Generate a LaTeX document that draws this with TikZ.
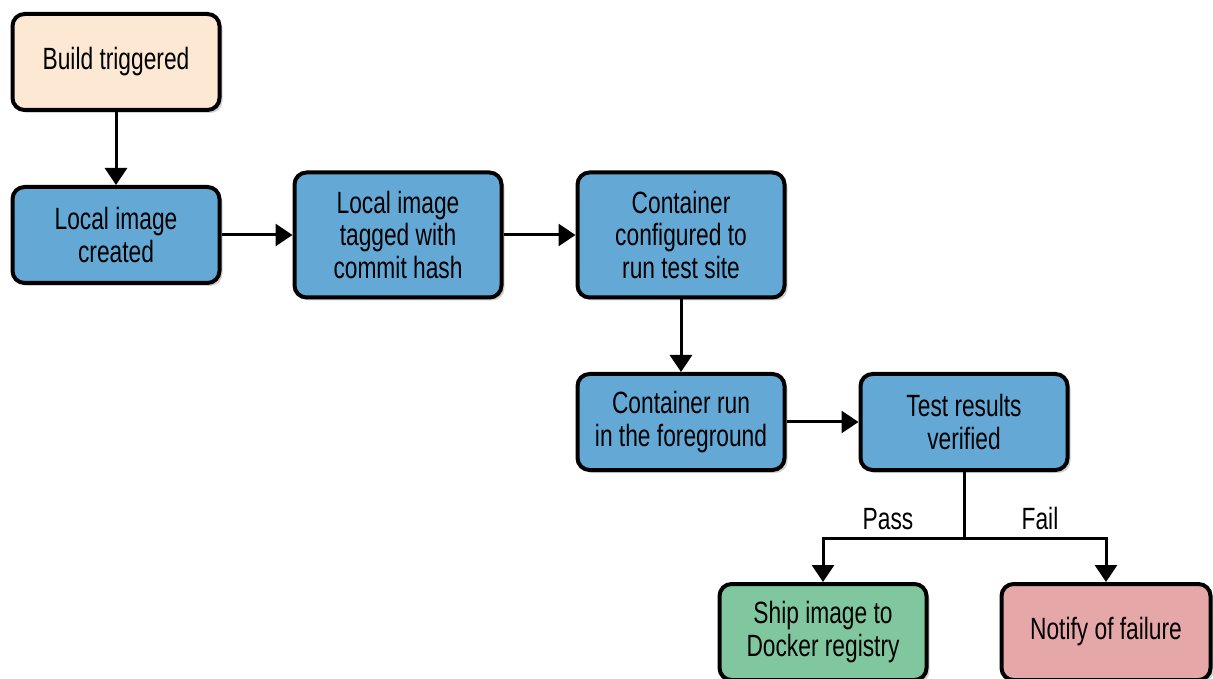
\documentclass[tikz,border=0pt]{standalone}
\usepackage{fontspec}
\setmainfont{Liberation Sans}[FakeStretch=0.74]
\usetikzlibrary{arrows.meta, shadows}
\definecolor{startfill}{HTML}{FDE9D3}
\definecolor{stepfill}{HTML}{64A9D6}
\definecolor{passfill}{HTML}{80C7A0}
\definecolor{failfill}{HTML}{E6A7A9}
\tikzset{
    box/.style={draw=black, line width=0.08cm, rounded corners=0.24cm, align=center,
        minimum width=4.14cm, minimum height=1.92cm, inner sep=0pt,
        font=\fontsize{17.5}{18.4}\selectfont,
        drop shadow={opacity=0.35, shadow xshift=0.06cm, shadow yshift=-0.06cm}},
    tallbox/.style={box, minimum height=2.5cm},
    flow/.style={line width=0.06cm, -{Triangle[width=0.44cm,length=0.34cm]}},
    branchlabel/.style={font=\fontsize{17.5}{18.4}\selectfont}
}
\begin{document}
\begin{tikzpicture}
        \useasboundingbox (0,0) rectangle (24.26,-13.58);
        \node[box, fill=startfill] (build) at (2.32,-1.24) {Build triggered};
        \node[box, fill=stepfill] (created) at (2.32,-4.70) {Local image\\created};
        \node[tallbox, fill=stepfill] (tagged) at (7.96,-4.70) {Local image\\tagged with\\commit hash};
        \node[tallbox, fill=stepfill] (config) at (13.62,-4.70) {Container\\configured to\\run test site};
        \node[box, fill=stepfill] (run) at (13.62,-8.44) {Container run\\in the foreground};
        \node[box, fill=stepfill] (verified) at (19.28,-8.44) {Test results\\verified};
        \node[box, fill=passfill] (ship) at (16.46,-12.64) {Ship image to\\Docker registry};
        \node[box, fill=failfill, minimum width=4.18cm] (notify) at (22.12,-12.64) {Notify of failure};
        \coordinate (split) at (19.28,-10.76);
        \draw[flow] (build) -- (created);
        \draw[flow] (created) -- (tagged);
        \draw[flow] (tagged) -- (config);
        \draw[flow] (config) -- (run);
        \draw[flow] (run) -- (verified);
        \draw[line width=0.06cm] (verified) -- (split);
        \draw[flow] (split) -| (ship);
        \draw[flow] (split) -| (notify);
        \node[branchlabel] (pass) at (17.76,-10.38) {Pass};
        \node[branchlabel] (fail) at (20.80,-10.38) {Fail};
    \end{tikzpicture}
\end{document}
